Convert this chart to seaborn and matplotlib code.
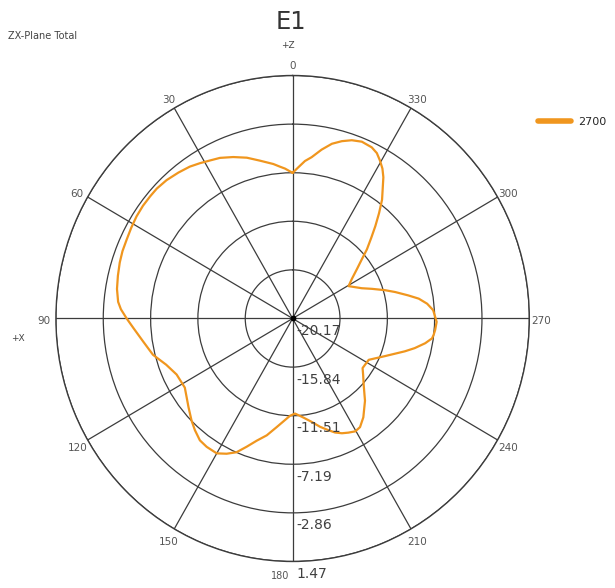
import numpy as np
import matplotlib
matplotlib.use("Agg")
import matplotlib.pyplot as plt
import seaborn as sns

# pattern: angle (deg, ccw from +Z) and level (dB)
angle_deg = [0, 3.0, 4.9, 7.3, 12, 16.3, 20.7, 24.9, 28.2, 31.5, 34.8, 38.8,
             43.1, 47.0, 50.1, 53.7, 57.5, 61.3, 65.1, 68.9, 72.5, 76.6, 80.7,
             84.7, 87, 90, 93.4, 98.5, 104.2, 109.6, 115.2, 122, 126, 129.7,
             134.6, 138.1, 142, 145.5, 150, 153.4, 156.7, 159.8, 163.2, 167.2,
             171.5, 178.4, 181.5, 186.3, 190.7, 194.6, 198.2, 200.9, 203.8,
             206.6, 209.7, 212.5, 216.3, 222.1, 224.2, 227.8, 232.1, 235.4,
             242.1, 248.3, 254.1, 256.7, 259.7, 262.1, 263.5, 265.5, 268.7,
             273.3, 276.1, 278.7, 281.0, 284.1, 286.6, 290, 293.1, 299.4,
             303.1, 306.9, 309.9, 312.2, 315, 317.4, 319.9, 322.3, 324.6,
             326.6, 328.4, 330.4, 332.4, 334.6, 338.1, 341.2, 344.1, 347, 350,
             353.1, 355.4, 357.8, 360]
level_db = [-7.2, -6.8, -6.6, -6.3, -5.8, -5.25, -4.8, -4.4, -4.2, -3.95, -3.7,
            -3.5, -3.3, -3.2, -3.2, -3.2, -3.25, -3.35, -3.45, -3.5, -3.6,
            -3.75, -3.9, -4.15, -4.45, -5.0, -5.6, -6.35, -7.0, -7.9, -8.45,
            -8.55, -8.2, -7.8, -7.2, -6.8, -6.4, -6.3, -6.3, -6.7, -7.2, -8.0,
            -8.8, -9.5, -10.4, -11.5, -11.7, -11.3, -10.8, -10.2, -9.7, -9.3,
            -9.0, -8.8, -8.6, -8.7, -9.25, -10.3, -10.75, -11.4, -12.0, -12.4,
            -12.3, -11.1, -9.5, -8.7, -7.85, -7.3, -7.2, -7.1, -7.0, -7.3,
            -7.8, -8.5, -9.4, -10.5, -11.35, -12.45, -13.3, -14.3, -13.7,
            -12.8, -11.9, -11.0, -10.0, -9.0, -7.9, -6.8, -5.95, -5.1, -4.5,
            -4.0, -3.55, -3.3, -3.2, -3.4, -3.75, -4.2, -4.9, -5.7, -6.1, -6.7,
            -7.2]

ring_values = [-20.17, -15.84, -11.51, -7.19, -2.86, 1.47]
ring_labels = ["-20.17", "-15.84", "-11.51", "-7.19", "-2.86", "1.47"]
theta_ticks = list(range(0, 360, 30))
theta_labels = [str(t) for t in theta_ticks]
series_name = "2700"

sns.set_style("white")
plt.rcParams['font.family'] = ['DejaVu Sans']

fig = plt.figure(figsize=(6.15, 5.88), dpi=100)
ax = fig.add_axes([0.0909, 0.0451, 0.7698, 0.8265], projection='polar')
ax.set_aspect('auto')
ax.set_theta_zero_location('N')
ax.set_theta_direction(1)

theta = np.deg2rad(angle_deg)
sns.lineplot(x=theta, y=level_db, ax=ax, sort=False, color='#f0961e',
             linewidth=1.6, label=series_name, legend=False)

ax.set_rlim(ring_values[0], ring_values[-1])
ax.set_rticks(ring_values[1:])
ax.set_yticklabels([])
ax.set_thetagrids(theta_ticks, [""] * len(theta_ticks))
ax.grid(True, color='#3c3c3c', linewidth=0.9)
ax.spines['polar'].set_color('#3c3c3c')
ax.spines['polar'].set_linewidth(1.0)
ax.set_xlabel('')
ax.set_ylabel('')
ax.scatter([0], [ring_values[0]], s=10, color='black', zorder=5)

# angle labels just outside the rim, sitting slightly low like the original
for t, lab in zip(theta_ticks, theta_labels):
    a = np.deg2rad(t)
    if lab == "180":
        off = (-2.5, -10.5)
        ha = 'right'
    else:
        off = (-np.sin(a) * 8.6, np.cos(a) * 8.6 - 1.8)
        ha = 'center'
    ax.annotate(lab, xy=(a, ring_values[-1]), xytext=off, textcoords='offset points',
                ha=ha, va='center', fontsize=7.5 if lab != "180" else 7,
                color='#555555', annotation_clip=False)

# radial value labels along the 180 spoke
for v, lab in zip(ring_values, ring_labels):
    ax.annotate(lab, xy=(np.pi, v), xytext=(3, -4), textcoords='offset points',
                ha='left', va='top', fontsize=10, color='#404040',
                annotation_clip=False)

fig.text(0.473, 0.962, "E1", ha='center', va='center', fontsize=17.5, color='#333333')
fig.text(0.013, 0.938, "ZX-Plane Total", ha='left', va='center', fontsize=7, color='#444444')
fig.text(0.468, 0.922, "+Z", ha='center', va='center', fontsize=6.5, color='#444444')
fig.text(0.029, 0.425, "+X", ha='center', va='center', fontsize=6.5, color='#444444')

handles, labels = ax.get_legend_handles_labels()
leg = fig.legend(handles, labels, loc='center left', bbox_to_anchor=(0.858, 0.792),
                 frameon=False, fontsize=8, handlelength=3.0, handletextpad=0.6)
for h in leg.get_lines():
    h.set_linewidth(4)

fig.savefig("out.png", dpi=100)
